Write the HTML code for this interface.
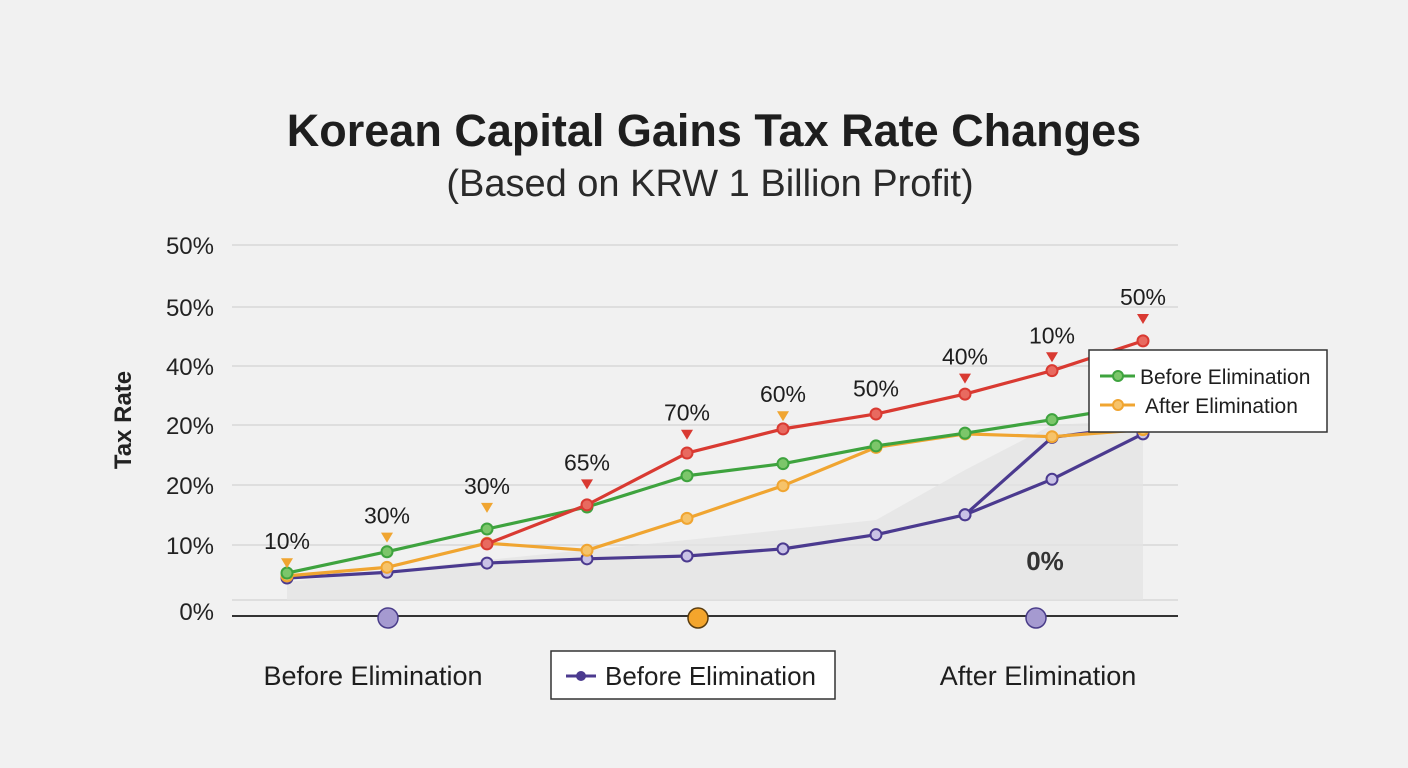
<!DOCTYPE html>
<html><head><meta charset="utf-8"><style>
body{margin:0;background:#f1f1f1;font-family:"Liberation Sans",sans-serif;}
svg{display:block}
</style></head><body>
<svg width="1408" height="768" viewBox="0 0 1408 768">
<rect width="1408" height="768" fill="#f1f1f1"/>
<text x="714" y="146" text-anchor="middle" font-size="45" font-weight="bold" fill="#1e1e1e">Korean Capital Gains Tax Rate Changes</text>
<text x="710" y="196" text-anchor="middle" font-size="38" fill="#2a2a2a">(Based on KRW 1 Billion Profit)</text>
<text transform="translate(131,420) rotate(-90)" text-anchor="middle" font-size="24" font-weight="bold" fill="#222">Tax Rate</text>
<g id="grid"></g>
<polygon points="287,582 487,560 687,540 876,520 965,470 1052,425 1143,420 1143,600 287,600" fill="#e2e2e2" opacity="0.7"/>
<line x1="232" y1="616" x2="1178" y2="616" stroke="#333" stroke-width="2"/>
<g id="series"></g>
<g id="annots"></g>
<circle cx="388" cy="618" r="10" fill="#a59ad0" stroke="#4a3d8a" stroke-width="1.5"/>
<circle cx="698" cy="618" r="10" fill="#f4a52c" stroke="#5a3d10" stroke-width="1.5"/>
<circle cx="1036" cy="618" r="10" fill="#a59ad0" stroke="#4a3d8a" stroke-width="1.5"/>
<text x="373" y="685" text-anchor="middle" font-size="27" fill="#1e1e1e">Before Elimination</text>
<text x="1038" y="685" text-anchor="middle" font-size="27" fill="#1e1e1e">After Elimination</text>
<text x="1045" y="570" text-anchor="middle" font-size="26" font-weight="bold" fill="#333">0%</text>
<g>
<rect x="551" y="651" width="284" height="48" fill="#fff" stroke="#333" stroke-width="1.5"/>
<line x1="566" y1="676" x2="596" y2="676" stroke="#4b3a8f" stroke-width="3"/>
<circle cx="581" cy="676" r="5" fill="#4b3a8f"/>
<text x="605" y="685" font-size="26" fill="#1e1e1e">Before Elimination</text>
</g>
<g>
<rect x="1089" y="350" width="238" height="82" fill="#fff" stroke="#333" stroke-width="1.5"/>
<line x1="1100" y1="376" x2="1135" y2="376" stroke="#3ea33e" stroke-width="3"/>
<circle cx="1118" cy="376" r="5" fill="#7cc66a" stroke="#3ea33e" stroke-width="2"/>
<text x="1140" y="384" font-size="21" fill="#1e1e1e">Before Elimination</text>
<line x1="1100" y1="405" x2="1135" y2="405" stroke="#f0a531" stroke-width="3"/>
<circle cx="1118" cy="405" r="5" fill="#f6c36a" stroke="#f0a531" stroke-width="2"/>
<text x="1145" y="413" font-size="21" fill="#1e1e1e">After Elimination</text>
</g>
</svg>
<script>
const xPositions = [287,387,487,587,687,783,876,965,1052,1143];
const gridValues = [0,10,20,20,40,50,50];
const gridTickLabels = ["0%","10%","20%","20%","40%","50%","50%"];
const gridYs = [600,545,485,425,366,307,245];
const redValues = [null,null,7.9,13.4,20.7,24.1,26.2,29.0,32.3,36.5];
const greenValues = [3.8,6.8,10.0,13.1,17.5,19.2,21.7,23.5,25.4,27.5];
const orangeValues = [3.4,4.6,8.0,7.0,11.5,16.1,21.5,23.4,23.0,24.0];
const purpleValues = [3.1,3.9,5.2,5.8,6.2,7.2,9.2,12.0,17.0,23.4];
const purple2Values = [null,null,null,null,null,null,null,12.0,22.9,24.6];
const annotLabels = ["10%","30%","30%","65%","70%","60%","50%","40%","10%","50%"];
const annotValues = [8.0,11.6,15.8,19.1,26.1,28.7,29.5,34.0,37.0,42.4];
const annotColors = ["#f0a531","#f0a531","#f0a531","#d93a32","#d93a32","#f0a531",null,"#d93a32","#d93a32","#d93a32"];
const NS="http://www.w3.org/2000/svg";
const yScale = v => 600 - v*7.1;
const xScale = i => xPositions[i];
const grid=document.getElementById('grid');
gridYs.forEach((y,i)=>{
  const l=document.createElementNS(NS,'line');
  l.setAttribute('x1',232);l.setAttribute('x2',1178);l.setAttribute('y1',y);l.setAttribute('y2',y);
  l.setAttribute('stroke','#d4d4d4');l.setAttribute('stroke-width','1.3');
  
  
  grid.appendChild(l);
  const t=document.createElementNS(NS,'text');
  t.setAttribute('x',214);t.setAttribute('y',(i===0?y+20:y+9));t.setAttribute('text-anchor','end');
  t.setAttribute('font-size','24');t.setAttribute('fill','#222');
  t.textContent=gridTickLabels[i];
  
  
  grid.appendChild(t);
});
const sg=document.getElementById('series');
function drawSeries(vals,color,fill,name){
  const pts=[];vals.forEach((v,i)=>{if(v!==null)pts.push([xScale(i),yScale(v)]);});
  const p=document.createElementNS(NS,'polyline');
  p.setAttribute('points',pts.map(a=>a.join(',')).join(' '));
  p.setAttribute('fill','none');p.setAttribute('stroke',color);p.setAttribute('stroke-width','3.2');p.setAttribute('stroke-linejoin','round');
  
  
  sg.appendChild(p);
  pts.forEach(a=>{
    const c=document.createElementNS(NS,'circle');
    c.setAttribute('cx',a[0]);c.setAttribute('cy',a[1]);c.setAttribute('r',5.5);
    c.setAttribute('fill',fill);c.setAttribute('stroke',color);c.setAttribute('stroke-width','2');
    
    
    sg.appendChild(c);
  });
}
drawSeries(purpleValues,'#4b3a8f','#c9c2e6','purple');
drawSeries(purple2Values,'#4b3a8f','#c9c2e6','purple-2');
drawSeries(orangeValues,'#f0a531','#f6c36a','orange');
drawSeries(greenValues,'#3ea33e','#7cc66a','green');
drawSeries(redValues,'#d93a32','#e86a60','red');
const ag=document.getElementById('annots');
annotLabels.forEach((lab,i)=>{
  const x=xScale(i),y=yScale(annotValues[i])+6;
  const t=document.createElementNS(NS,'text');
  t.setAttribute('x',x);t.setAttribute('y',y);t.setAttribute('text-anchor','middle');
  t.setAttribute('font-size','23');t.setAttribute('fill','#1e1e1e');
  t.textContent=lab;
  
  
  ag.appendChild(t);
  if(annotColors[i]){
    const tr=document.createElementNS(NS,'polygon');
    tr.setAttribute('points',`${x-6},${y+9} ${x+6},${y+9} ${x},${y+19}`);
    tr.setAttribute('fill',annotColors[i]);
    
    
    ag.appendChild(tr);
  }
});
</script>
</body></html>
